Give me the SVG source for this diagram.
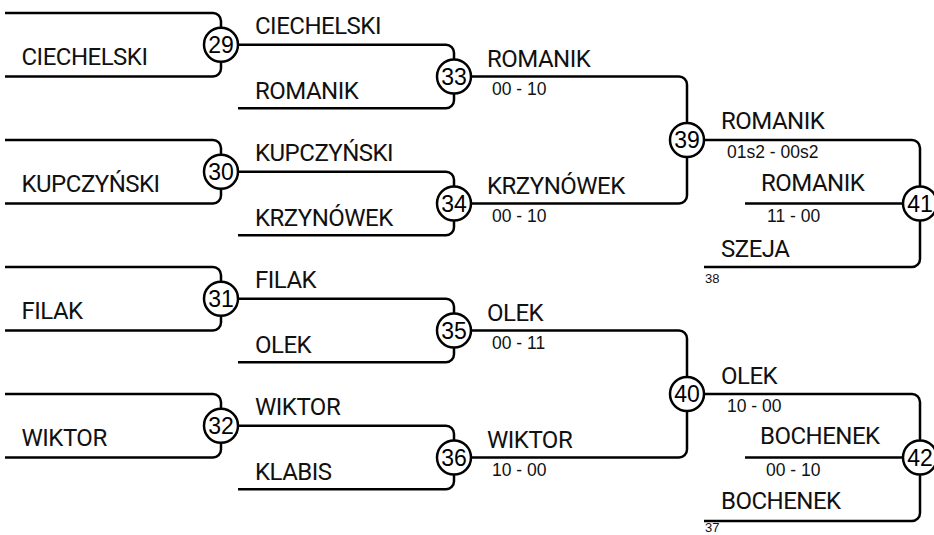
<svg xmlns="http://www.w3.org/2000/svg" width="934" height="535" viewBox="0 0 934 535">
<style>
.c{fill:none;stroke:#000;stroke-width:2.5;stroke-linecap:butt;stroke-linejoin:round}
.n circle{fill:#fff;stroke:#000;stroke-width:2.5}
.n text{font-family:"Liberation Sans",Arial,sans-serif;font-size:23px;text-anchor:middle;fill:#000}
.nm{font-family:Roboto,"Liberation Sans",sans-serif;font-size:24px;letter-spacing:-0.5px;fill:#111}
.sc{font-family:"Liberation Sans",Arial,sans-serif;font-size:17.5px;fill:#111}
.sd{font-family:"Liberation Sans",Arial,sans-serif;font-size:13px;fill:#111}
</style>
<rect width="934" height="535" fill="#fff"/>
<g id="connectors" class="c">
<path d="M5 13H213A8 8 0 0 1 221 21V27.75M5 76.5H213A8 8 0 0 0 221 68.5V61.75"/>
<path d="M5 140H213A8 8 0 0 1 221 148V154.75M5 203.5H213A8 8 0 0 0 221 195.5V188.75"/>
<path d="M5 267H213A8 8 0 0 1 221 275V281.75M5 330.5H213A8 8 0 0 0 221 322.5V315.75"/>
<path d="M5 394H213A8 8 0 0 1 221 402V408.75M5 457.5H213A8 8 0 0 0 221 449.5V442.75"/>
<path d="M238 44.75H446A8 8 0 0 1 454 52.75V59.5M238 108.25H446A8 8 0 0 0 454 100.25V93.5"/>
<path d="M238 171.75H446A8 8 0 0 1 454 179.75V186.5M238 235.25H446A8 8 0 0 0 454 227.25V220.5"/>
<path d="M238 298.75H446A8 8 0 0 1 454 306.75V313.5M238 362.25H446A8 8 0 0 0 454 354.25V347.5"/>
<path d="M238 425.75H446A8 8 0 0 1 454 433.75V440.5M238 489.25H446A8 8 0 0 0 454 481.25V474.5"/>
<path d="M471 76.5H679A8 8 0 0 1 687 84.5V123M471 203.5H679A8 8 0 0 0 687 195.5V157"/>
<path d="M471 330.5H679A8 8 0 0 1 687 338.5V377M471 457.5H679A8 8 0 0 0 687 449.5V411"/>
<path d="M704 140H912A8 8 0 0 1 920 148V186.5M745 203.5H903M704 267H912A8 8 0 0 0 920 259V220.5"/>
<path d="M704 394H912A8 8 0 0 1 920 402V440.5M745 457.5H903M704 521H912A8 8 0 0 0 920 513V474.5"/>
</g>
<g id="m29" class="n"><circle cx="221" cy="44.75" r="17"/><text x="221" y="53">29</text></g>
<g id="m30" class="n"><circle cx="221" cy="171.75" r="17"/><text x="221" y="180">30</text></g>
<g id="m31" class="n"><circle cx="221" cy="298.75" r="17"/><text x="221" y="307">31</text></g>
<g id="m32" class="n"><circle cx="221" cy="425.75" r="17"/><text x="221" y="434">32</text></g>
<g id="m33" class="n"><circle cx="454" cy="76.5" r="17"/><text x="454" y="84.75">33</text></g>
<g id="m34" class="n"><circle cx="454" cy="203.5" r="17"/><text x="454" y="211.75">34</text></g>
<g id="m35" class="n"><circle cx="454" cy="330.5" r="17"/><text x="454" y="338.75">35</text></g>
<g id="m36" class="n"><circle cx="454" cy="457.5" r="17"/><text x="454" y="465.75">36</text></g>
<g id="m39" class="n"><circle cx="687" cy="140" r="17"/><text x="687" y="148.25">39</text></g>
<g id="m40" class="n"><circle cx="687" cy="394" r="17"/><text x="687" y="402.25">40</text></g>
<g id="m41" class="n"><circle cx="920" cy="203.5" r="17"/><text x="920" y="211.75">41</text></g>
<g id="m42" class="n"><circle cx="920" cy="457.5" r="17"/><text x="920" y="465.75">42</text></g>
<g id="labels">
<text class="nm" x="21.5" y="65">CIECHELSKI</text>
<text class="nm" x="21.5" y="192">KUPCZYŃSKI</text>
<text class="nm" x="21.5" y="319">FILAK</text>
<text class="nm" x="21.5" y="446">WIKTOR</text>
<text class="nm" x="255" y="34">CIECHELSKI</text>
<text class="nm" x="255" y="98.5">ROMANIK</text>
<text class="nm" x="255" y="161">KUPCZYŃSKI</text>
<text class="nm" x="255" y="225.5">KRZYNÓWEK</text>
<text class="nm" x="255" y="288">FILAK</text>
<text class="nm" x="255" y="352.5">OLEK</text>
<text class="nm" x="255" y="415">WIKTOR</text>
<text class="nm" x="255" y="479.5">KLABIS</text>
<text class="nm" x="487" y="66.5">ROMANIK</text>
<text class="sc" x="492" y="95">00 - 10</text>
<text class="nm" x="487" y="193.5">KRZYNÓWEK</text>
<text class="sc" x="492" y="222">00 - 10</text>
<text class="nm" x="487" y="320.5">OLEK</text>
<text class="sc" x="492" y="349">00 - 11</text>
<text class="nm" x="487" y="447.5">WIKTOR</text>
<text class="sc" x="492" y="476">10 - 00</text>
<text class="nm" x="721" y="128.5">ROMANIK</text>
<text class="sc" x="727" y="158">01s2 - 00s2</text>
<text class="nm" x="761" y="190.5">ROMANIK</text>
<text class="sc" x="767" y="222">11 - 00</text>
<text class="nm" x="721" y="256.5">SZEJA</text>
<text class="sd" x="705" y="282.5">38</text>
<text class="nm" x="721" y="383.5">OLEK</text>
<text class="sc" x="727" y="412">10 - 00</text>
<text class="nm" x="760" y="443.5">BOCHENEK</text>
<text class="sc" x="766" y="476">00 - 10</text>
<text class="nm" x="721" y="508.5">BOCHENEK</text>
<text class="sd" x="705" y="532">37</text>
</g>
</svg>
